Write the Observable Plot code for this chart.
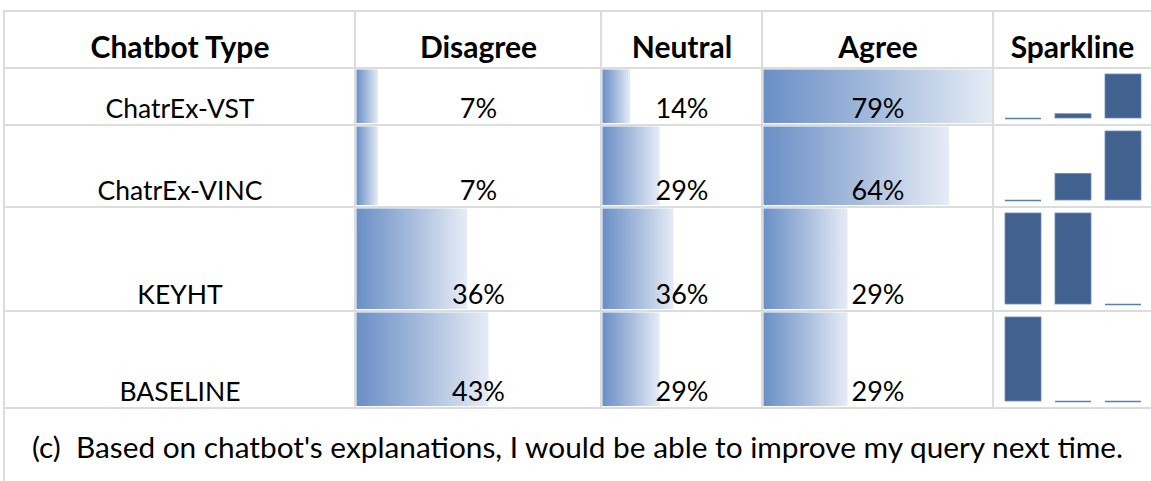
<!DOCTYPE html>
<html>
<head>
<meta charset="utf-8">
<script src="https://cdn.jsdelivr.net/npm/d3@7"></script>
<script src="https://cdn.jsdelivr.net/npm/@observablehq/plot@0.6"></script>
<style>
  html, body { margin: 0; padding: 0; background: #fff; }
  #root { position: relative; width: 1151px; height: 481px; overflow: hidden; font-family: Lato, sans-serif; }
  .cell { position: absolute; }
  .cell svg { display: block; overflow: visible; }
  .hline, .vline { position: absolute; background: #dcdcdc; }
  #caption { position: absolute; left: 4px; width: 1147px; text-align: center; color: #000; white-space: pre; }
</style>
</head>
<body>
<svg width="0" height="0" style="position:absolute">
  <defs>
    <linearGradient id="databar" x1="0" x2="1" y1="0" y2="0">
      <stop offset="0" stop-color="#6a8fc6"/>
      <stop offset="0.5" stop-color="#a6bcdd"/>
      <stop offset="1" stop-color="#e6ecf6"/>
    </linearGradient>
  </defs>
</svg>
<div id="root"></div>
<script>
// ---- data ----
const headers = ["Chatbot Type", "Disagree", "Neutral", "Agree", "Sparkline"];
const chatbots = ["ChatrEx-VST", "ChatrEx-VINC", "KEYHT", "BASELINE"];
const responses = ["Disagree", "Neutral", "Agree"];
const disagree = [7, 7, 36, 43];
const neutral = [14, 29, 36, 29];
const agree = [79, 64, 29, 29];
const caption = "(c)  Based on chatbot's explanations, I would be able to improve my query next time.";

// ---- layout ----
const colX = [4, 355, 601, 762, 993, 1151];
const rowY = [11, 68, 125, 207, 311, 408];
const barMaxPx = [132, 71, 229]; // length of the longest bar in each data-bar column
const FONT = "Lato";
const FS_HEAD = 30, FS_LABEL = 26.5, FS_VALUE = 27, FS_CAPTION = 29.8;

const root = document.getElementById("root");

function cell(col, row, node) {
  const d = document.createElement("div");
  d.className = "cell";
  d.style.left = colX[col] + "px";
  d.style.top = rowY[row] + "px";
  d.style.width = (colX[col + 1] - colX[col]) + "px";
  d.style.height = (rowY[row + 1] - rowY[row]) + "px";
  d.appendChild(node);
  root.appendChild(d);
}

function textCell(col, row, label, bold, dy, fs) {
  const w = colX[col + 1] - colX[col], h = rowY[row + 1] - rowY[row];
  return Plot.plot({
    width: w, height: h, margin: 0,
    style: {fontFamily: FONT, background: "transparent", overflow: "visible"},
    marks: [
      Plot.text([label], {text: d => d, frameAnchor: "bottom", lineAnchor: "bottom", dy: -dy,
        fontSize: fs, fontWeight: bold ? "bold" : "normal", fill: "#000"})
    ]
  });
}

// header
headers.forEach((hd, i) => cell(i, 0, textCell(i, 0, hd, true, 11, FS_HEAD)));

// chatbot labels
chatbots.forEach((c, r) => cell(0, r + 1, textCell(0, r + 1, c, false, 8, FS_LABEL)));

// data-bar columns
const columns = [disagree, neutral, agree];
columns.forEach((vals, ci) => {
  const col = ci + 1;
  const w = colX[col + 1] - colX[col];
  const vmax = d3.max(vals);
  vals.forEach((v, r) => {
    const h = rowY[r + 2] - rowY[r + 1];
    const p = Plot.plot({
      width: w, height: h, margin: 0,
      style: {fontFamily: FONT, background: "transparent", overflow: "visible"},
      x: {domain: [0, vmax], range: [1.5, 1.5 + barMaxPx[ci]], axis: null},
      marks: [
        Plot.barX([v], {x1: 0, x2: d => d, fill: "url(#databar)", insetTop: 1.5, insetBottom: 2}),
        Plot.text([v], {text: d => d + "%", frameAnchor: "bottom", lineAnchor: "bottom", dy: -8,
          fontSize: FS_VALUE, fill: "#000"})
      ]
    });
    cell(col, r + 1, p);
  });
});

// sparklines
chatbots.forEach((c, r) => {
  const data = responses.map((resp, i) => ({response: resp, value: columns[i][r]}));
  const [mn, mx] = d3.extent(data, d => d.value);
  const w = colX[5] - colX[4];
  const h = rowY[r + 2] - rowY[r + 1];
  const p = Plot.plot({
    width: w, height: h, margin: 0,
    style: {background: "transparent", overflow: "visible"},
    x: {type: "band", domain: responses, range: [11, 149], paddingInner: 0.29, paddingOuter: 0, axis: null},
    y: {domain: [mn, mx], range: [h - 7, 6], axis: null},
    marks: [
      Plot.barY(data.filter(d => d.value > mn), {x: "response", y1: mn, y2: "value",
        fill: "#41618f", stroke: "#6e8dbd", strokeWidth: 0.8}),
      Plot.tickY(data.filter(d => d.value === mn), {x: "response", y: "value",
        stroke: "#5a7db3", strokeWidth: 1.5})
    ]
  });
  cell(4, r + 1, p);
});

// grid lines
function hline(y, x0, x1) {
  const d = document.createElement("div");
  d.className = "hline";
  Object.assign(d.style, {left: x0 + "px", top: (y - 1) + "px", width: (x1 - x0) + "px", height: "2px"});
  root.appendChild(d);
}
function vline(x, y0, y1) {
  const d = document.createElement("div");
  d.className = "vline";
  Object.assign(d.style, {left: (x - 1) + "px", top: y0 + "px", width: "2px", height: (y1 - y0) + "px"});
  root.appendChild(d);
}
rowY.forEach(y => hline(y, colX[0] - 1, 1151));
colX.slice(1, 5).forEach(x => vline(x, rowY[0], rowY[5]));
vline(colX[0], rowY[0], 481);

// caption
const cap = document.createElement("div");
cap.id = "caption";
cap.textContent = caption;
cap.style.top = "428px";
cap.style.fontSize = FS_CAPTION + "px";
cap.style.lineHeight = "38px";
root.appendChild(cap);
</script>
</body>
</html>
